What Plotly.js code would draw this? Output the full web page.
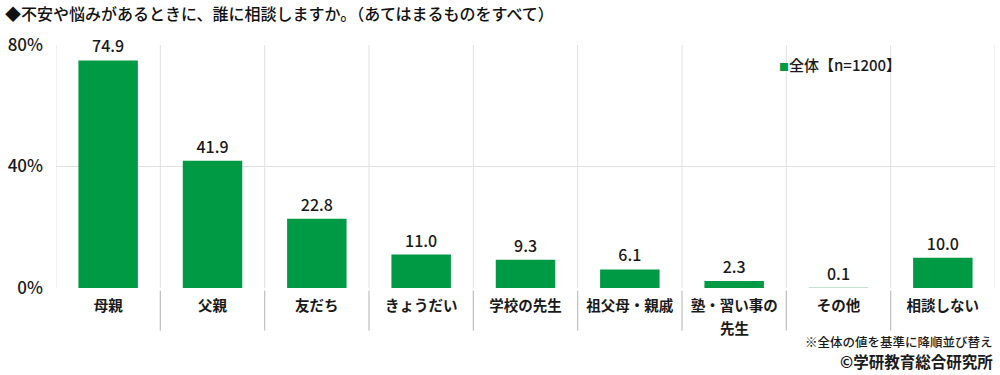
<!DOCTYPE html>
<html><head><meta charset="utf-8">
<script src="https://cdn.plot.ly/plotly-3.0.1.min.js"></script>
<style>body{margin:0;background:#fff}#c{width:1000px;height:375px}</style>
</head><body><div id="c"></div>
<script>
const categories = ["母親","父親","友だち","きょうだい","学校の先生","祖父母・親戚","塾・習い事の","その他","相談しない"];
const categorySecondLines = ["","","","","","","先生","",""];
const values = [74.9, 41.9, 22.8, 11.0, 9.3, 6.1, 2.3, 0.1, 10.0];
const seriesName = "全体【n=1200】";
const yTicks = [0, 40, 80];
const titleText = "◆不安や悩みがあるときに、誰に相談しますか。（あてはまるものをすべて）";
const noteText = "※全体の値を基準に降順並び替え";
const creditText = "©学研教育総合研究所";

const FONT = "'Noto Sans CJK JP', 'Noto Sans', sans-serif";
const GREEN = '#009944';
const xs = categories.map((_, i) => i);
const shapes = [];
for (let i = 0; i <= categories.length; i++) {
  shapes.push({type:'line', xref:'x', yref:'paper', x0:i-0.5, x1:i-0.5, y0:0, y1:1,
    line:{color:'#e0e0e0', width:1}, layer:'below'});
  if (i > 0 && i < categories.length) {
    shapes.push({type:'line', xref:'x', yref:'paper', x0:i-0.5, x1:i-0.5, y0:-0.01, y1:-0.175,
      line:{color:'#bfbfbf', width:1.2}});
  }
}
const annotations = [
  {text:'<span style="color:' + GREEN + ';font-size:10px">■</span>' + seriesName,
   xref:'paper', yref:'paper', x:0.768, y:0.92, xanchor:'left', yanchor:'middle',
   showarrow:false, font:{family:FONT, size:15, color:'#1a1a1a', weight:500}},
  {text:noteText, xref:'paper', yref:'paper', x:1, y:-0.222, xanchor:'right', yanchor:'middle',
   showarrow:false, font:{family:FONT, size:12.5, color:'#1a1a1a', weight:500}},
  {text:creditText, xref:'paper', yref:'paper', x:1, y:-0.3, xanchor:'right', yanchor:'middle',
   showarrow:false, font:{family:FONT, size:15.5, color:'#1a1a1a', weight:'bold'}}
];
categorySecondLines.forEach((t, i) => {
  if (t) annotations.push({text:t, xref:'x', yref:'paper', x:i, y:-0.162, xanchor:'center', yanchor:'middle',
    borderpad:0, showarrow:false, font:{family:FONT, size:14.5, color:'#1a1a1a', weight:'bold'}});
});
Plotly.newPlot('c', [{
  type:'bar', x:xs, y:values, name:seriesName,
  marker:{color:GREEN}, width:0.57,
  text:values.map(v => v.toFixed(1)), textposition:'outside', cliponaxis:false,
  textfont:{family:FONT, size:16, color:'#1a1a1a', weight:500}, showlegend:false, hoverinfo:'none'
}], {
  width:1000, height:375,
  margin:{l:56, r:5, t:45, b:87},
  paper_bgcolor:'#fff', plot_bgcolor:'#fff',
  font:{family:FONT, color:'#1a1a1a'},
  title:{text:titleText, x:0.005, xanchor:'left', y:0.962, yanchor:'middle',
    font:{family:FONT, size:16, color:'#111', weight:500}},
  xaxis:{range:[-0.5, categories.length-0.5], tickvals:xs, ticktext:categories,
    showgrid:false, zeroline:false, showline:false, ticks:'', ticklabelstandoff:7,
    tickfont:{family:FONT, size:14.5, color:'#1a1a1a', weight:'bold'}, fixedrange:true},
  yaxis:{range:[0,80], tickvals:yTicks, ticktext:yTicks.map(v => v + '%'),
    showgrid:true, gridcolor:'#e0e0e0', gridwidth:1, zeroline:false, showline:false, ticks:'',
    tickfont:{family:FONT, size:17, color:'#1a1a1a', weight:500}, ticklabelstandoff:12, fixedrange:true},
  shapes:shapes,
  annotations:annotations
}, {displayModeBar:false, staticPlot:true});
</script></body></html>
